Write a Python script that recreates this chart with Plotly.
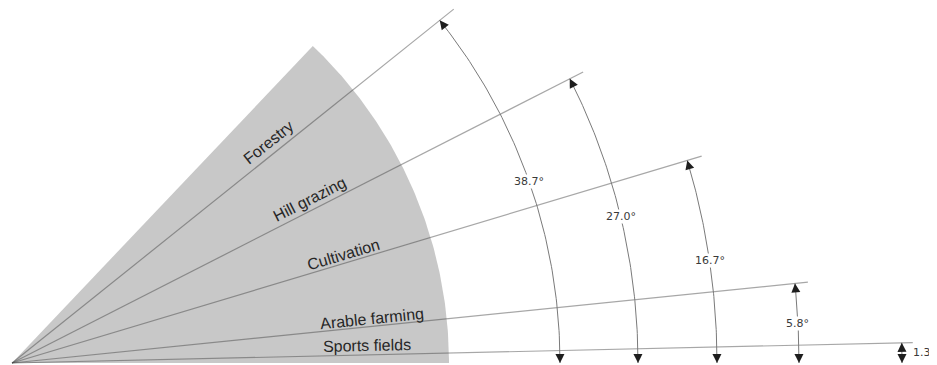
import math
import plotly.graph_objects as go

# ---- data ----
categories = ["Sports fields", "Arable farming", "Cultivation", "Hill grazing", "Forestry"]
angles_deg = [1.3, 5.8, 16.7, 27.0, 38.7]
angle_labels = ["1.3°", "5.8°", "16.7°", "27.0°", "38.7°"]

# ---- layout constants (positions / styles) ----
# page has an 8px body margin, so the figure is drawn 8px in from the window edge
W, H = 929, 357
X0, Y0 = 4, 355            # figure-pixel position of the fan origin
LINE_LEN = [901, 800, 720, 641, 566]
ARC_R = [890, 787, 705, 626, 548]
LABEL_ALONG = [355, 363, 349, 339, 338]
LABEL_PERP = [9, 8, 9, 11, 12]
SECTOR_R = 437
SECTOR_ANGLE = 46.5
SECTOR_COLOR = "#c8c8c8"
LINE_COLOR = "rgba(60,60,60,0.45)"
ARC_COLOR = "#7a7a7a"
HEAD_COLOR = "#1e1e1e"


def pol(r, a_deg):
    a = math.radians(a_deg)
    return r * math.cos(a), r * math.sin(a)


fig = go.Figure()

# grey sector
n = 120
sx, sy = [0.0], [0.0]
for i in range(n + 1):
    x, y = pol(SECTOR_R, SECTOR_ANGLE * i / n)
    sx.append(x)
    sy.append(y)
sx.append(0.0)
sy.append(0.0)
fig.add_trace(go.Scatter(x=sx, y=sy, mode="lines", fill="toself",
                         fillcolor=SECTOR_COLOR, line=dict(width=0),
                         hoverinfo="skip", showlegend=False))

# radial lines
for a, L in zip(angles_deg, LINE_LEN):
    ex, ey = pol(L, a)
    fig.add_trace(go.Scatter(x=[0, ex], y=[0, ey], mode="lines",
                             line=dict(color=LINE_COLOR, width=1.2),
                             hoverinfo="skip", showlegend=False))

# arcs
for a, r in zip(angles_deg, ARC_R):
    m = 80
    ax_, ay_ = [], []
    for i in range(m + 1):
        x, y = pol(r, a * i / m)
        ax_.append(x)
        ay_.append(y)
    fig.add_trace(go.Scatter(x=ax_, y=ay_, mode="lines",
                             line=dict(color=ARC_COLOR, width=1),
                             hoverinfo="skip", showlegend=False))

annotations = []

# arrowheads at both ends of each arc
for a, r in zip(angles_deg, ARC_R):
    d_deg = math.degrees(5.0 / r)
    tx, ty = pol(r, a)
    bx, by = pol(r, a - d_deg)
    annotations.append(dict(x=tx, y=ty, ax=bx, ay=by, xref="x", yref="y",
                            axref="x", ayref="y", text="", showarrow=True,
                            arrowhead=2, arrowsize=1.8, arrowwidth=1,
                            arrowcolor=HEAD_COLOR, standoff=0))
    tx, ty = pol(r, 0)
    bx, by = pol(r, d_deg)
    annotations.append(dict(x=tx, y=ty, ax=bx, ay=by, xref="x", yref="y",
                            axref="x", ayref="y", text="", showarrow=True,
                            arrowhead=2, arrowsize=1.8, arrowwidth=1,
                            arrowcolor=HEAD_COLOR, standoff=0))

# angle labels
for k, (a, r, t) in enumerate(zip(angles_deg, ARC_R, angle_labels)):
    x, y = pol(r, a / 2)
    if k == 0:
        annotations.append(dict(x=x + 9, y=y, xref="x", yref="y", text=t,
                                showarrow=False, xanchor="left", yanchor="middle",
                                font=dict(family="DejaVu Sans", size=11, color="#3a3a3a")))
    else:
        annotations.append(dict(x=x, y=y, xref="x", yref="y", text=t,
                                showarrow=False, xanchor="center", yanchor="middle",
                                bgcolor="white", borderpad=0,
                                font=dict(family="DejaVu Sans", size=11, color="#3a3a3a")))

# category labels along lines
for c, a, s, p in zip(categories, angles_deg, LABEL_ALONG, LABEL_PERP):
    rad = math.radians(a)
    x = s * math.cos(rad) - p * math.sin(rad)
    y = s * math.sin(rad) + p * math.cos(rad)
    annotations.append(dict(x=x, y=y, xref="x", yref="y", text=c,
                            showarrow=False, textangle=-a,
                            xanchor="center", yanchor="middle",
                            font=dict(family="Liberation Sans, Arial", size=16,
                                      color="#262626")))

fig.update_layout(
    width=W, height=H,
    margin=dict(l=0, r=0, t=0, b=0),
    paper_bgcolor="white", plot_bgcolor="white",
    showlegend=False,
    annotations=annotations,
    xaxis=dict(range=[-X0, W - X0], visible=False, fixedrange=True),
    yaxis=dict(range=[Y0 - H, Y0], visible=False, fixedrange=True),
)

fig.write_html("out.html")
